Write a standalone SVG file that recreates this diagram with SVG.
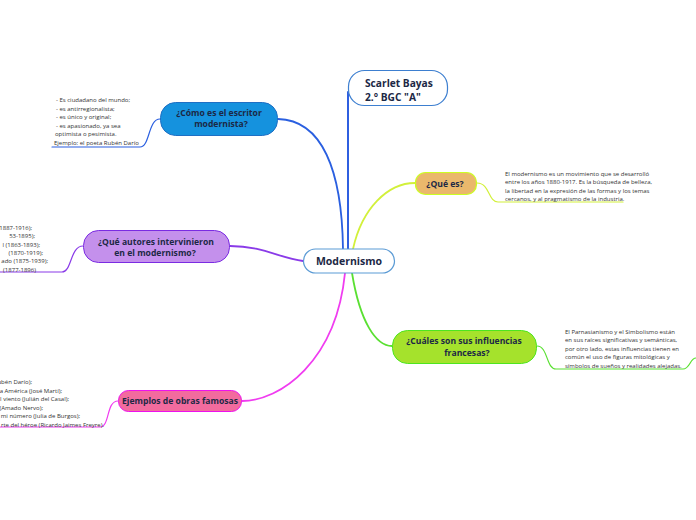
<svg xmlns="http://www.w3.org/2000/svg" width="696" height="520" viewBox="0 0 696 520">
<style>
.lbl{font-family:"Open Sans","Noto Sans",sans-serif;font-weight:bold;font-size:8.6px;fill:#1c2845;text-anchor:middle}
.sm{font-family:"Open Sans","Noto Sans",sans-serif;font-size:6px;fill:#333333}
.smr{font-family:"Open Sans","Noto Sans",sans-serif;font-size:6px;fill:#333333;text-anchor:end}
.c{fill:none;stroke-linecap:round}
</style>
<rect width="696" height="520" fill="#ffffff"/>
<g id="connectors">
<path class="c" d="M348,92 L348,249" stroke="#2f5fe0" stroke-width="2"/>
<path class="c" d="M278,119 C322,120 342,170 343,249" stroke="#2a5fe0" stroke-width="1.8"/>
<path class="c" d="M160,119 C148,119 150,147 140,147 L52,147" stroke="#2a5fe0" stroke-width="1.2"/>
<path class="c" d="M353,249 C362,208 388,183 415,183" stroke="#d2f03a" stroke-width="1.8"/>
<path class="c" d="M477,183 C490,183 488,202 498,202 L623,202" stroke="#d2f03a" stroke-width="1.2"/>
<path class="c" d="M352,273 C360,322 376,346 392,346" stroke="#5ae032" stroke-width="1.8"/>
<path class="c" d="M537,346 C548,346 546,369 556,369 L683,369 C690,369 690,358 696,358" stroke="#5ae032" stroke-width="1.2"/>
<path class="c" d="M303,261 C280,258 262,246 230,246" stroke="#8a3be8" stroke-width="1.8"/>
<path class="c" d="M83,246 C70,246 72,272 62,272 L0,272" stroke="#8a3be8" stroke-width="1.2"/>
<path class="c" d="M345,273 C336,362 280,401 242,401" stroke="#f03cf0" stroke-width="1.8"/>
<path class="c" d="M118,401 C106,401 110,427 100,427 L0,427" stroke="#f03cf0" stroke-width="1.2"/>
</g>
<g id="modernismo">
<rect x="303.5" y="249" width="91" height="24" rx="12" fill="#ffffff" stroke="#5b9bd5" stroke-width="1.2"/>
<text class="lbl" x="349" y="265" style="font-size:10.5px">Modernismo</text>
</g>
<g id="scarlet">
<rect x="348.5" y="70.5" width="99" height="35" rx="16" fill="#ffffff" stroke="#3d7fd0" stroke-width="1.2"/>
<text class="lbl" x="365" y="87" style="font-size:10.2px;text-anchor:start">Scarlet Bayas</text>
<text class="lbl" x="365" y="101" style="font-size:10.2px;text-anchor:start">2.° BGC "A"</text>
</g>
<g id="como">
<rect x="160.5" y="102.5" width="117" height="33" rx="15" fill="#1592de" stroke="#1f6fc4" stroke-width="1"/>
<text class="lbl" x="219" y="116">¿Cómo es el escritor</text>
<text class="lbl" x="221" y="127">modernista?</text>
</g>
<g id="como-texto">
<text class="sm" x="56" y="102">- Es ciudadano del mundo;</text>
<text class="sm" x="56" y="110.5">- es antirregionalista;</text>
<text class="sm" x="56" y="119">- es único y original;</text>
<text class="sm" x="56" y="127.5">- es apasionado, ya sea</text>
<text class="sm" x="55" y="136">optimista o pesimista.</text>
<text class="sm" x="54" y="144.5">Ejemplo: el poeta Rubén Darío</text>
</g>
<g id="autores">
<rect x="83.5" y="230.5" width="146" height="32" rx="15" fill="#c490ec" stroke="#7b2be2" stroke-width="1"/>
<text class="lbl" x="156" y="245">¿Qué autores intervinieron</text>
<text class="lbl" x="155" y="256">en el modernismo?</text>
</g>
<g id="autores-texto">
<text class="smr" x="32" y="230">1887-1916);</text>
<text class="smr" x="35" y="238.3">53-1895);</text>
<text class="smr" x="40" y="246.6">l (1863-1893);</text>
<text class="smr" x="43" y="254.9">(1870-1919);</text>
<text class="smr" x="48" y="263.2">ado (1875-1939);</text>
<text class="smr" x="36" y="271.5">(1877-1896)</text>
</g>
<g id="ejemplos">
<rect x="118.5" y="390.5" width="123" height="21" rx="10" fill="#f26b9e" stroke="#ee11ee" stroke-width="1"/>
<text class="lbl" x="180" y="404">Ejemplos de obras famosas</text>
</g>
<g id="ejemplos-texto">
<text class="smr" x="32" y="384">ubén Darío);</text>
<text class="smr" x="62" y="392.5">a América (José Martí);</text>
<text class="smr" x="69" y="401">l viento (Julián del Casal);</text>
<text class="smr" x="43" y="409.5">(Amado Nervo);</text>
<text class="smr" x="80" y="418">mi número (Julia de Burgos);</text>
<text class="smr" x="104" y="426.5">rte del héroe (Ricardo Jaimes Freyre).</text>
</g>
<g id="quees">
<rect x="415.5" y="172.5" width="61" height="22" rx="10" fill="#eab86c" stroke="#ccff22" stroke-width="1.2"/>
<text class="lbl" x="445" y="186.5">¿Qué es?</text>
</g>
<g id="quees-texto">
<text class="sm" x="505" y="175.5">El modernismo es un movimiento que se desarrolló</text>
<text class="sm" x="505" y="184">entre los años 1880-1917. Es la búsqueda de belleza,</text>
<text class="sm" x="505" y="192.5">la libertad en la expresión de las formas y los temas</text>
<text class="sm" x="505" y="201">cercanos, y al pragmatismo de la industria.</text>
</g>
<g id="cuales">
<rect x="392.5" y="330.5" width="144" height="33" rx="15" fill="#a5e22c" stroke="#4de61f" stroke-width="1"/>
<text class="lbl" x="464" y="344">¿Cuáles son sus influencias</text>
<text class="lbl" x="467" y="355.5">francesas?</text>
</g>
<g id="cuales-texto">
<text class="sm" x="565" y="333.5">El Parnasianismo y el Simbolismo están</text>
<text class="sm" x="565" y="342">en sus raíces significativas y semánticas,</text>
<text class="sm" x="565" y="350.5">por otro lado, estas influencias tienen en</text>
<text class="sm" x="565" y="359">común el uso de figuras mitológicas y</text>
<text class="sm" x="565" y="367.5">símbolos de sueños y realidades alejadas.</text>
</g>
</svg>
